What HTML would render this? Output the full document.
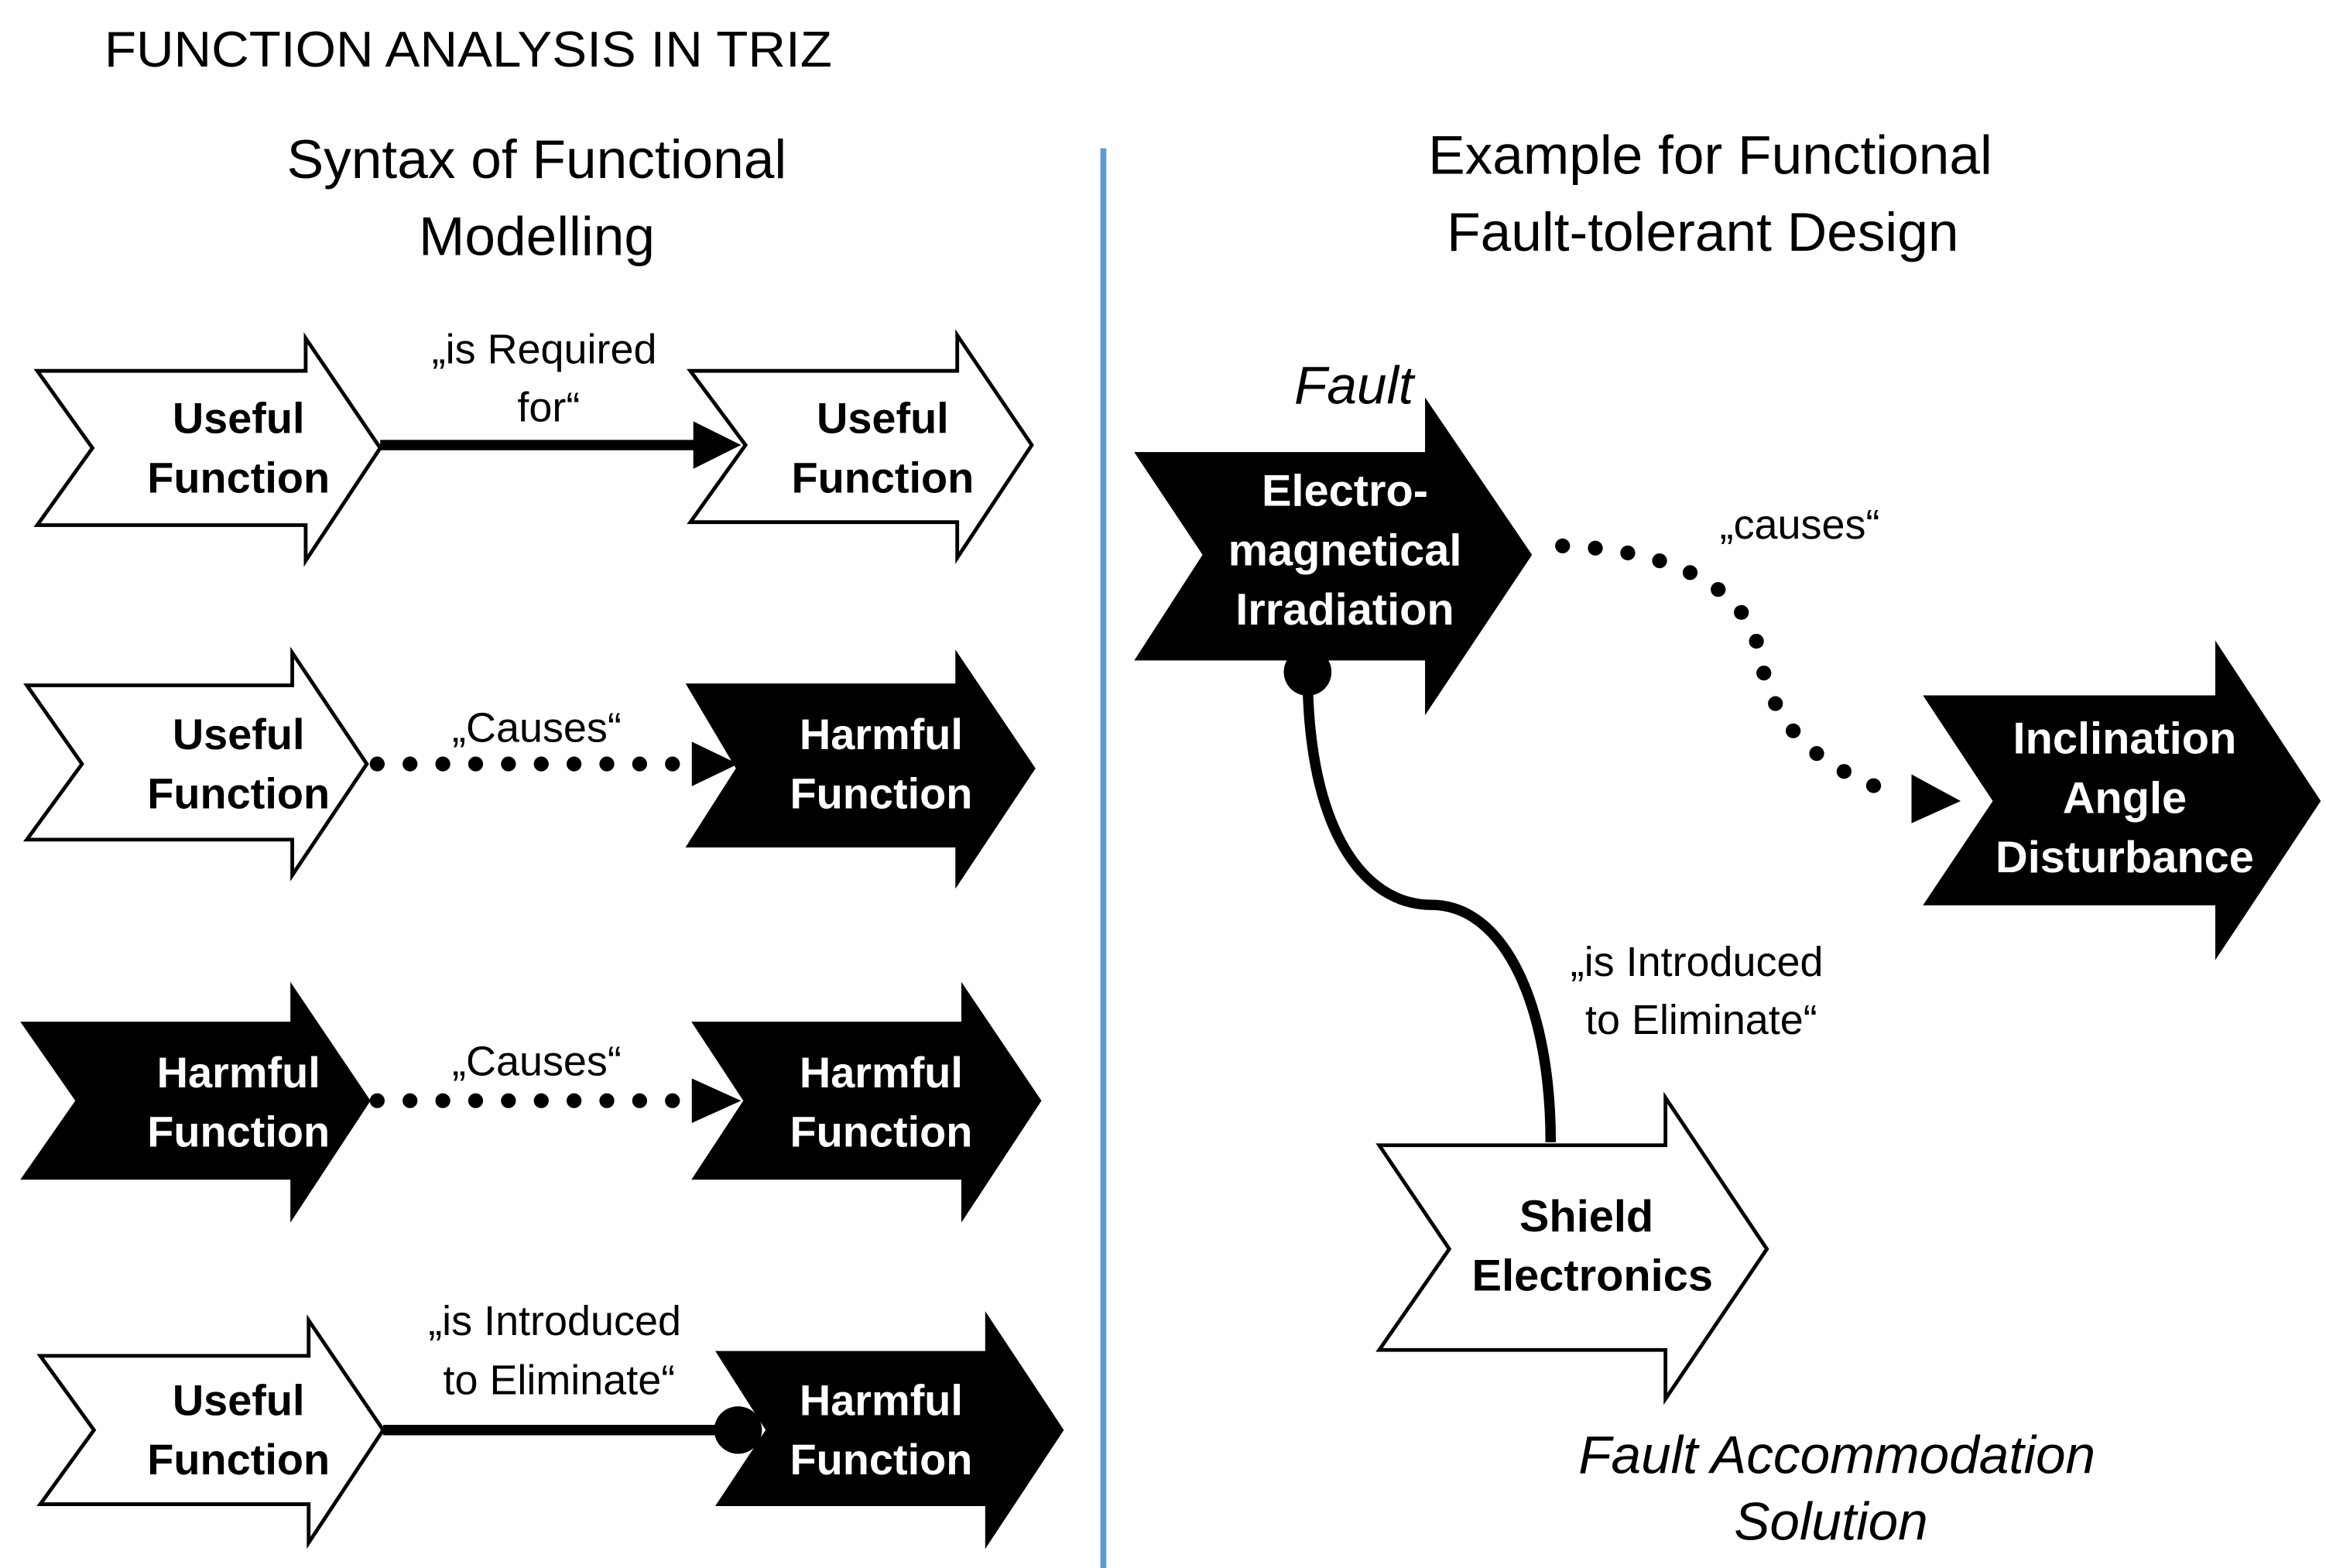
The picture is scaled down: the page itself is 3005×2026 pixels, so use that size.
<!DOCTYPE html>
<html><head><meta charset="utf-8"><style>
html,body{margin:0;padding:0;background:#fff;}
svg{display:block;}
text{font-family:"Liberation Sans",sans-serif;}
</style></head><body>
<svg width="3005" height="2026" viewBox="0 0 1560 1057" preserveAspectRatio="none" xmlns="http://www.w3.org/2000/svg">
<rect width="1560" height="1057" fill="#fff"/>
<text x="70" y="45" font-size="34" textLength="488" lengthAdjust="spacingAndGlyphs">FUNCTION ANALYSIS IN TRIZ</text>
<text x="360" y="120" font-size="37" text-anchor="middle">Syntax of Functional</text>
<text x="360" y="172" font-size="37" text-anchor="middle">Modelling</text>
<line x1="740" y1="100" x2="740" y2="1057" stroke="#5b9bd5" stroke-width="4"/>
<text x="1147" y="117" font-size="37" text-anchor="middle">Example for Functional</text>
<text x="1142" y="169" font-size="37" text-anchor="middle">Fault-tolerant Design</text>

<g stroke="#000" stroke-width="2.5" stroke-linejoin="miter">
<polygon fill="#fff" points="25,250 205,250 205,228 255,302 205,378 205,354 25,354 62,302"/>
<polygon fill="#fff" points="463,250 642,250 642,226 692,300 642,376 642,352 463,352 500,300"/>
<polygon fill="#fff" points="18,462 196,462 196,440 246,515 196,590 196,566 18,566 55,515"/>
<polygon fill="#000" points="462,462 642,462 642,442 693,518 642,595 642,570 462,570 495,518"/>
<polygon fill="#000" points="16,690 196,690 196,666 247,742 196,820 196,794 16,794 52,742"/>
<polygon fill="#000" points="466,690 646,690 646,666 697,742 646,820 646,794 466,794 500,742"/>
<polygon fill="#fff" points="27,914 207,914 207,890 257,964 207,1040 207,1014 27,1014 63,964"/>
<polygon fill="#000" points="482,912 662,912 662,888 712,964 662,1040 662,1014 482,1014 515,964"/>
<polygon fill="#000" points="763,306 957,306 957,272 1026,374 957,478 957,444 763,444 808,374"/>
<polygon fill="#000" points="1292,470 1487,470 1487,436 1555,540 1487,643 1487,609 1292,609 1338,540"/>
<polygon fill="#fff" points="925,772 1117,772 1117,740 1185,842 1117,943 1117,910 925,910 972,842"/>
</g>

<g font-size="29" font-weight="bold" text-anchor="middle">
<text x="160" y="292">Useful</text><text x="160" y="332">Function</text>
<text x="592" y="292">Useful</text><text x="592" y="332">Function</text>
<text x="160" y="505">Useful</text><text x="160" y="545">Function</text>
<text x="591" y="505" fill="#fff">Harmful</text><text x="591" y="545" fill="#fff">Function</text>
<text x="160" y="733" fill="#fff">Harmful</text><text x="160" y="773" fill="#fff">Function</text>
<text x="591" y="733" fill="#fff">Harmful</text><text x="591" y="773" fill="#fff">Function</text>
<text x="160" y="954">Useful</text><text x="160" y="994">Function</text>
<text x="591" y="954" fill="#fff">Harmful</text><text x="591" y="994" fill="#fff">Function</text>
</g>
<g font-size="30" font-weight="bold" text-anchor="middle">
<text x="902" y="341" fill="#fff">Electro-</text>
<text x="902" y="381" fill="#fff">magnetical</text>
<text x="902" y="421" fill="#fff">Irradiation</text>
<text x="1425" y="508" fill="#fff">Inclination</text>
<text x="1425" y="548" fill="#fff">Angle</text>
<text x="1425" y="588" fill="#fff">Disturbance</text>
<text x="1064" y="830">Shield</text>
<text x="1068" y="870">Electronics</text>
</g>

<g font-size="28" text-anchor="middle">
<text x="365" y="245">„is Required</text><text x="368" y="284">for“</text>
<text x="360" y="500">„Causes“</text>
<text x="360" y="725">„Causes“</text>
<text x="372" y="900">„is Introduced</text><text x="375" y="940">to Eliminate“</text>
<text x="1207" y="363">„causes“</text>
<text x="1138" y="658">„is Introduced</text><text x="1141" y="697">to Eliminate“</text>
</g>
<g font-size="36" font-style="italic" text-anchor="middle">
<text x="908" y="272">Fault</text>
<text x="1232" y="993">Fault Accommodation</text>
<text x="1228" y="1038">Solution</text>
</g>

<!-- connectors -->
<line x1="255" y1="300" x2="470" y2="300" stroke="#000" stroke-width="7"/>
<polygon points="465,284 497,300 465,316" fill="#000"/>
<line x1="253" y1="515" x2="452" y2="515" stroke="#000" stroke-width="10" stroke-linecap="round" stroke-dasharray="0 22"/>
<polygon points="464,500 495,515 464,530" fill="#000"/>
<line x1="253" y1="742" x2="452" y2="742" stroke="#000" stroke-width="10" stroke-linecap="round" stroke-dasharray="0 22"/>
<polygon points="464,727 497,742 464,757" fill="#000"/>
<line x1="257" y1="964" x2="495" y2="964" stroke="#000" stroke-width="7"/>
<circle cx="495" cy="964" r="16" fill="#000"/>

<path d="M1048,368 C1110,370 1170,390 1180,440 C1190,500 1230,520 1275,537" fill="none" stroke="#000" stroke-width="10" stroke-linecap="round" stroke-dasharray="0 22"/>
<polygon points="1282,522 1315,540 1282,555" fill="#000"/>

<path d="M877,453 C877,560 915,610 960,610 C1010,610 1040,680 1040,770" fill="none" stroke="#000" stroke-width="7"/>
<circle cx="877" cy="453" r="16" fill="#000"/>
</svg>
</body></html>
